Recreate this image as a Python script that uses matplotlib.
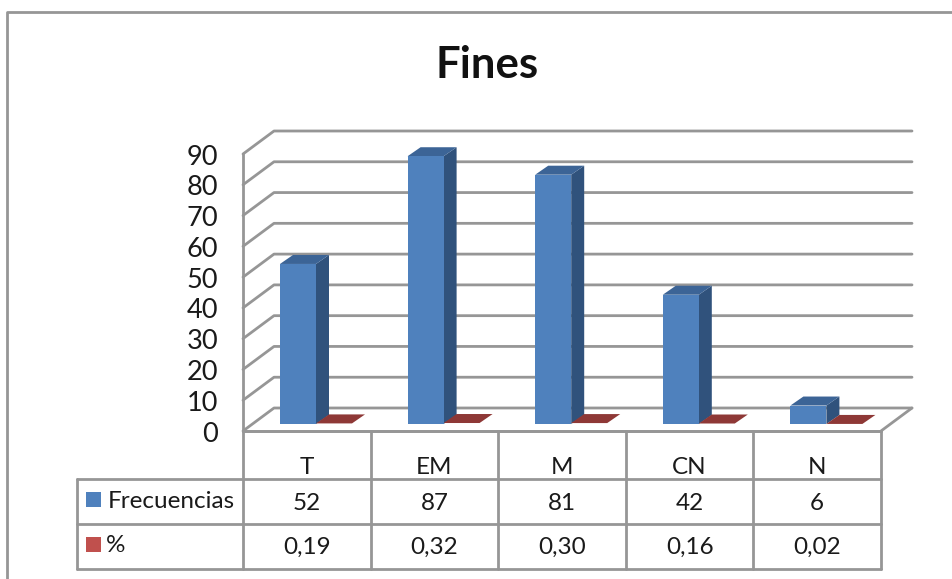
import numpy as np
import matplotlib
matplotlib.use('Agg')
import matplotlib.pyplot as plt
from matplotlib.patches import Polygon, Rectangle

categorias = ['T', 'EM', 'M', 'CN', 'N']
frecuencias = [52, 87, 81, 42, 6]
porcentajes = [0.19, 0.32, 0.30, 0.16, 0.02]
porcentajes_txt = ['0,19', '0,32', '0,30', '0,16', '0,02']
ticks_y = [0, 10, 20, 30, 40, 50, 60, 70, 80, 90]
filas = ['Frecuencias', '%']

AZUL, AZUL_TOP, AZUL_LADO = '#4f81bd', '#3c6496', '#30527c'
ROJO_TOP, ROJO_LEY = '#8e3836', '#c0504d'
GRIS = '#969696'
TEXTO = '#1a1a1a'

W, H = 953, 579
plt.rcParams['font.family'] = ['Lato', 'DejaVu Sans']

fig = plt.figure(figsize=(W / 100, H / 100), dpi=100, facecolor='white')

# capa en pixeles para marco y tabla
bg = fig.add_axes([0, 0, 1, 1])
bg.set_xlim(0, W)
bg.set_ylim(H, 0)
bg.axis('off')

# ejes del grafico: x de categorias, y de valores
X0, X1, Y0, Y90 = 243, 881, 431, 154
ax = fig.add_axes([X0 / W, 1 - Y0 / H, (X1 - X0) / W, (Y0 - Y90) / H])
ax.set_xlim(0, 5)
ax.set_ylim(0, 90)
ax.axis('off')

px = 5 / (X1 - X0)       # un pixel en unidades de x
py = 90 / (Y0 - Y90)     # un pixel en unidades de y
prof_x, prof_y = 31 * px, 23 * py   # profundidad de las paredes


def linea(xs, ys):
    ax.plot(xs, ys, color=GRIS, lw=2, clip_on=False, solid_capstyle='round', zorder=1)


# marco exterior (abierto a la derecha)
bg.plot([7, 7, W], [H, 12, 12], color=GRIS, lw=2)

# paredes y rejilla
for t in ticks_y:
    linea([0, prof_x, 5 + prof_x], [t, t + prof_y, t + prof_y])
    ax.text(-25 * px, t - 1, str(t), ha='right', va='center', fontsize=19.5, color=TEXTO)
linea([0, 0], [0, 90])
linea([5, 5 + prof_x], [0, prof_y])
linea([0, 5], [0, 0])

# barras con efecto 3D
ancho = 36 * px
base = 7 * py
dx, dy = 13 * px, 9 * py
pos = np.arange(len(categorias))
x_azul = pos + 37 * px
x_rojo = x_azul + ancho

for x, v in zip(x_azul, frecuencias):
    top = base + v
    ax.add_patch(Polygon([(x + ancho, base), (x + ancho + dx, base + dy), (x + ancho + dx, top + dy),
                          (x + ancho, top)], fc=AZUL_LADO, ec='none', clip_on=False, zorder=3))
    ax.add_patch(Polygon([(x, top), (x + dx, top + dy), (x + ancho + dx, top + dy), (x + ancho, top)],
                         fc=AZUL_TOP, ec='none', clip_on=False, zorder=3))
ax.bar(x_azul, frecuencias, width=ancho, bottom=base, align='edge', color=AZUL, clip_on=False, zorder=4)

for x, v in zip(x_rojo, porcentajes):
    top = base + v
    ax.add_patch(Polygon([(x, top), (x + dx, top + dy), (x + ancho + dx, top + dy), (x + ancho, top)],
                         fc=ROJO_TOP, ec='none', clip_on=False, zorder=3))

# tabla de datos
filas_y = [431, 479, 524, 569]
col_x = [X0 + i * (X1 - X0) / 5 for i in range(6)]
TABLA_X0 = 77


def tabla(xs, ys):
    bg.plot(xs, ys, color=GRIS, lw=2, solid_capstyle='round')


tabla([X0, X1], [filas_y[0]] * 2)
for yy in filas_y[1:]:
    tabla([TABLA_X0, X1], [yy, yy])
tabla([TABLA_X0, TABLA_X0], [filas_y[1], filas_y[3]])
for xx in col_x:
    tabla([xx, xx], [filas_y[0], filas_y[3]])

FS = 17.5
centros = [(a + b) / 2 for a, b in zip(col_x[:-1], col_x[1:])]
for c, cat, f, p in zip(centros, categorias, frecuencias, porcentajes_txt):
    bg.text(c, 468, cat, ha='center', va='center', fontsize=FS, color=TEXTO)
    bg.text(c, 503, str(f), ha='center', va='center', fontsize=FS, color=TEXTO)
    bg.text(c, 547, p, ha='center', va='center', fontsize=FS, color=TEXTO)

bg.add_patch(Rectangle((86, 492), 15, 15, fc=AZUL, ec='none'))
bg.add_patch(Rectangle((86, 537), 15, 15, fc=ROJO_LEY, ec='none'))
bg.text(108, 501, filas[0], ha='left', va='center', fontsize=FS, color=TEXTO)
bg.text(106, 545, filas[1], ha='left', va='center', fontsize=FS, color=TEXTO)

bg.text(487, 65, 'Fines', ha='center', va='center', fontsize=31.5, fontweight='bold', color='#111111')

fig.savefig('out.png', dpi=100)
